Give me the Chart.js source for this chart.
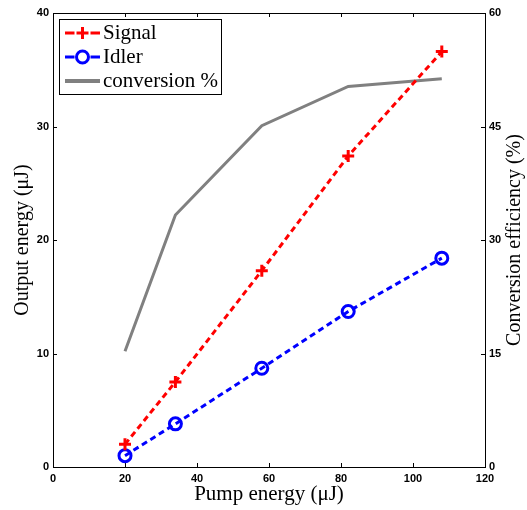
<!DOCTYPE html>
<html lang="en">
<head>
<meta charset="UTF-8">
<title>Signal / Idler output vs pump energy</title>
<script src="https://cdn.jsdelivr.net/npm/chart.js"></script>
<style>
  html, body { margin: 0; padding: 0; background: #fff; }
</style>
</head>
<body>
<canvas id="chart" width="527" height="510"></canvas>

<script>
// values
const pumpEnergy    = [20, 34, 58, 82, 108];        // uJ
const signalEnergy  = [2.0, 7.5, 17.3, 27.4, 36.6]; // uJ (left axis)
const idlerEnergy   = [1.0, 3.8, 8.7, 13.7, 18.4];  // uJ (left axis)
const conversionPct = [15.3, 33.3, 45.1, 50.3, 51.3]; // % (right axis)

const seriesLabels = ['Signal', 'Idler', 'conversion %'];
const rightTitle = 'Conversion efficiency (%)';

const pts = (ys) => pumpEnergy.map((x, i) => ({ x: x, y: ys[i] }));

const serif = '"Liberation Serif", "Times New Roman", serif';
const tickFont = { family: '"Liberation Sans", Arial, sans-serif', size: 11, weight: 'bold' };

// box around the plot plus MATLAB-style inward ticks
const frameTicks = {
    id: 'frameTicks',
    beforeDatasetsDraw(chart) {
        const { ctx, chartArea: a, scales } = chart;
        const len = 4;
        ctx.save();
        ctx.strokeStyle = '#000';
        ctx.lineWidth = 1;
        ctx.beginPath();
        scales.x.ticks.forEach(t => {
            const px = Math.round(scales.x.getPixelForValue(t.value)) + 0.5;
            ctx.moveTo(px, a.bottom); ctx.lineTo(px, a.bottom - len);
            ctx.moveTo(px, a.top); ctx.lineTo(px, a.top + len);
        });
        scales.y.ticks.forEach(t => {
            const py = Math.round(scales.y.getPixelForValue(t.value)) + 0.5;
            ctx.moveTo(a.left, py); ctx.lineTo(a.left + len, py);
        });
        scales.y2.ticks.forEach(t => {
            const py = Math.round(scales.y2.getPixelForValue(t.value)) + 0.5;
            ctx.moveTo(a.right, py); ctx.lineTo(a.right - len, py);
        });
        ctx.stroke();
        ctx.strokeRect(Math.round(a.left) + 0.5, Math.round(a.top) + 0.5,
                       Math.round(a.right - a.left), Math.round(a.bottom - a.top));
        ctx.restore();
    }
};

// right axis title reads bottom-to-top like the left one
const rightAxisTitle = {
    id: 'rightAxisTitle',
    afterDraw(chart) {
        const { ctx, chartArea: a } = chart;
        ctx.save();
        ctx.translate(chart.width - 12, (a.top + a.bottom) / 2);
        ctx.rotate(-Math.PI / 2);
        ctx.fillStyle = '#000';
        ctx.font = '20px ' + serif;
        ctx.textAlign = 'center';
        ctx.textBaseline = 'middle';
        ctx.fillText(rightTitle, 0, 0);
        ctx.restore();
    }
};

// legend drawn inside the plot, top-left
const innerLegend = {
    id: 'innerLegend',
    afterDraw(chart) {
        const { ctx, chartArea: a } = chart;
        const bx = a.left + 6, by = a.top + 6, bw = 162, bh = 75;
        ctx.save();
        ctx.fillStyle = '#fff';
        ctx.fillRect(bx, by, bw, bh);
        ctx.strokeStyle = '#000';
        ctx.lineWidth = 1;
        ctx.strokeRect(bx + 0.5, by + 0.5, bw, bh);

        chart.data.datasets.forEach((ds, i) => {
            const cy = by + 14 + i * 24;
            const x0 = bx + 6, x1 = bx + 41, xm = (x0 + x1) / 2;
            ctx.strokeStyle = ds.borderColor;
            ctx.lineWidth = ds.borderWidth;
            ctx.setLineDash([]);
            ctx.beginPath();
            if (ds.pointRadius > 0) {
                ctx.moveTo(x0, cy); ctx.lineTo(xm - 8, cy);
                ctx.moveTo(xm + 8, cy); ctx.lineTo(x1, cy);
            } else {
                ctx.lineWidth = ds.borderWidth + 1;
                ctx.moveTo(x0, cy); ctx.lineTo(x1, cy);
            }
            ctx.stroke();
            if (ds.pointRadius > 0) {
                ctx.fillStyle = 'rgba(0,0,0,0)';
                ctx.lineWidth = ds.pointBorderWidth;
                Chart.helpers.drawPoint(ctx, {
                    pointStyle: ds.pointStyle, rotation: 0,
                    radius: ds.pointRadius, borderWidth: ds.pointBorderWidth
                }, xm, cy);
            }
            ctx.fillStyle = '#000';
            ctx.font = '21px ' + serif;
            ctx.textBaseline = 'middle';
            ctx.textAlign = 'left';
            ctx.fillText(ds.label, bx + 44, cy);
        });
        ctx.restore();
    }
};

new Chart(document.getElementById('chart'), {
    type: 'line',
    data: {
        datasets: [
            {
                label: seriesLabels[0],
                data: pts(signalEnergy),
                yAxisID: 'y',
                borderColor: '#ff0000',
                borderWidth: 3,
                borderDash: [6, 4],
                pointStyle: 'cross',
                pointRadius: 6,
                pointBorderWidth: 3,
                pointBorderColor: '#ff0000',
                pointBackgroundColor: 'rgba(0,0,0,0)',
                order: 1
            },
            {
                label: seriesLabels[1],
                data: pts(idlerEnergy),
                yAxisID: 'y',
                borderColor: '#0000ff',
                borderWidth: 3,
                borderDash: [6, 4],
                pointStyle: 'circle',
                pointRadius: 6,
                pointBorderWidth: 3,
                pointBorderColor: '#0000ff',
                pointBackgroundColor: 'rgba(0,0,0,0)',
                order: 2
            },
            {
                label: seriesLabels[2],
                data: pts(conversionPct),
                yAxisID: 'y2',
                borderColor: '#808080',
                borderWidth: 3,
                pointRadius: 0,
                order: 3
            }
        ]
    },
    options: {
        responsive: false,
        animation: false,
        layout: { padding: { top: 13, left: 0, right: 0, bottom: 0 } },
        plugins: {
            legend: { display: false },
            tooltip: { enabled: false }
        },
        scales: {
            x: {
                type: 'linear',
                min: 0, max: 120,
                ticks: { stepSize: 20, color: '#000', font: tickFont, padding: 5, maxRotation: 0 },
                grid: { display: false, drawTicks: false },
                border: { display: true, color: '#000' },
                title: { display: true, text: 'Pump energy (μJ)', color: '#000',
                         font: { family: serif, size: 21 }, padding: { top: 0, bottom: 3 } },
                afterFit(scale) { scale.height = 43; }
            },
            y: {
                position: 'left',
                min: 0, max: 40,
                ticks: { stepSize: 10, color: '#000', font: tickFont, padding: 4 },
                grid: { display: false, drawTicks: false },
                border: { display: true, color: '#000' },
                title: { display: true, text: 'Output energy (μJ)', color: '#000',
                         font: { family: serif, size: 20 }, padding: { top: 11, bottom: 0 } },
                afterFit(scale) { scale.width = 53; }
            },
            y2: {
                position: 'right',
                min: 0, max: 60,
                ticks: { stepSize: 15, color: '#000', font: tickFont, padding: 4 },
                grid: { display: false, drawTicks: false },
                border: { display: true, color: '#000' },
                title: { display: false },
                afterFit(scale) { scale.width = 42; }
            }
        }
    },
    plugins: [frameTicks, rightAxisTitle, innerLegend]
});
</script>
</body>
</html>
